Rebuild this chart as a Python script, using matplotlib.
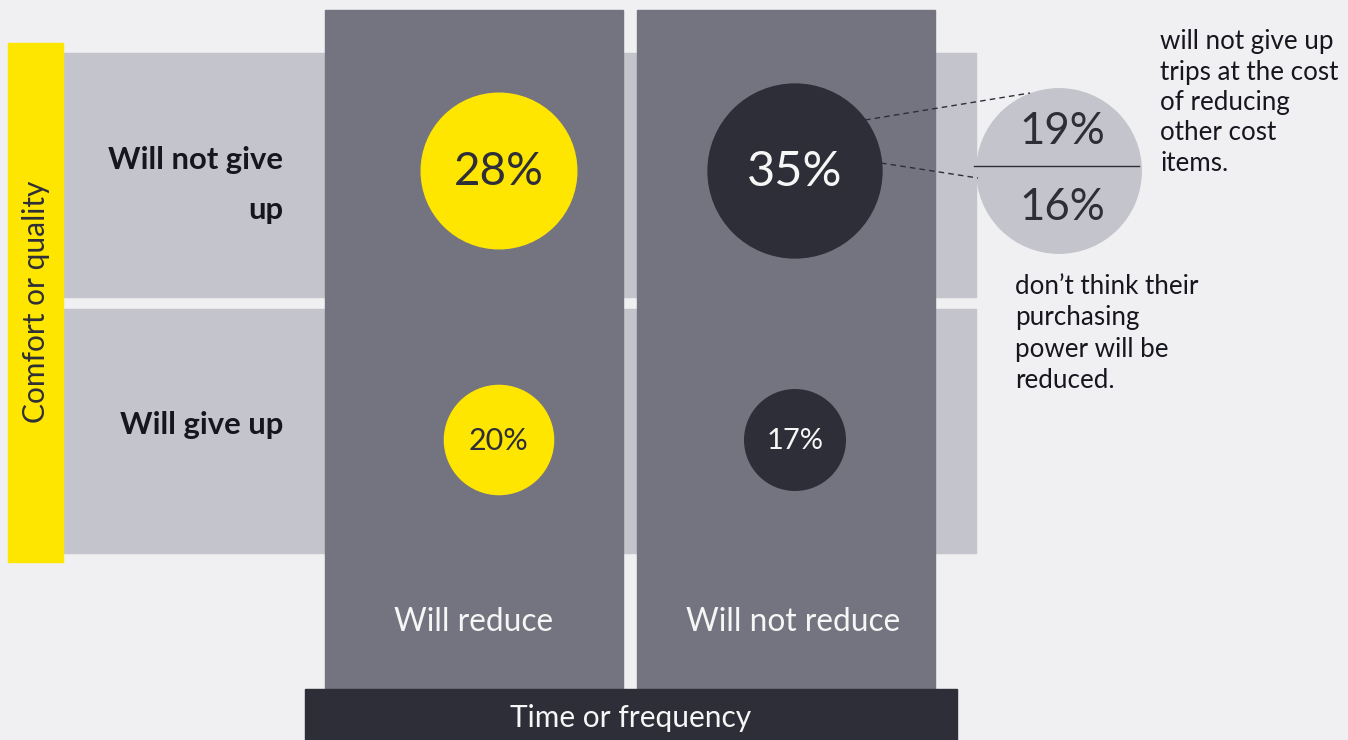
import matplotlib
matplotlib.use("Agg")
import matplotlib.pyplot as plt
from matplotlib.patches import Rectangle, Circle

# ---- data -------------------------------------------------------------
col_labels = ["Will reduce", "Will not reduce"]
row_labels = ["Will not give\nup", "Will give up"]
row_axis_title = "Comfort or quality"
col_axis_title = "Time or frequency"
shares = [[28, 35],   # will not give up
          [20, 17]]   # will give up
split_values = [19, 16]   # breakdown of the 35% group
split_notes = ["will not give up\ntrips at the cost\nof reducing\nother cost\nitems.",
               "don\u2019t think their\npurchasing\npower will be\nreduced."]

# ---- style ------------------------------------------------------------
BG = "#F0F0F2"
BAND = "#C4C4CC"
COLUMN = "#747480"
DARK = "#2E2E38"
INK = "#16161E"
LIGHT = "#F6F6F6"
YELLOW = "#FFE600"
circle_fill = [YELLOW, DARK]
circle_text = [DARK, LIGHT]
FONT = ["Lato", "DejaVu Sans"]

fig = plt.figure(figsize=(13.48, 7.4), dpi=100)
fig.patch.set_facecolor(BG)
ax = fig.add_axes([0, 0, 1, 1])
ax.set_xlim(0, 1348)
ax.set_ylim(740, 0)
ax.axis("off")

# geometry (pixel space)
row_spans = [(53, 297), (309, 553)]
col_spans = [(325, 623), (637, 935)]
col_label_x = [474, 793]
circle_x = [499, 795]
circle_y = [171, 440]
row_scale = [14.7, 12.2]          # radius = scale * sqrt(share)
pct_size = [[33, 35], [22, 21]]


def stacked_text(x, y0, step, text, **kw):
    """Draw a multi-line block one line at a time with a fixed line pitch."""
    for i, line in enumerate(text.split("\n")):
        ax.text(x, y0 + i * step, line, va="center", **kw)


# light horizontal bands
for y0, y1 in row_spans:
    ax.add_patch(Rectangle((63, y0), 976 - 63, y1 - y0, color=BAND, zorder=1))

# yellow vertical axis bar
ax.add_patch(Rectangle((8, 43), 55, 519, color=YELLOW, zorder=2))
ax.text(36, 302, row_axis_title, rotation=90, ha="center", va="center",
        fontsize=21.5, color=DARK, family=FONT, zorder=3)

# dark columns
for x0, x1 in col_spans:
    ax.add_patch(Rectangle((x0, 10), x1 - x0, 680, color=COLUMN, zorder=2))

# bottom axis bar
ax.add_patch(Rectangle((305, 689), 652, 51, color=DARK, zorder=3))
ax.text(631, 718, col_axis_title, ha="center", va="center",
        fontsize=21.5, color=LIGHT, family=FONT, zorder=4)

# column labels
for x, lab in zip(col_label_x, col_labels):
    ax.text(x, 622, lab, ha="center", va="center",
            fontsize=22.8, color=LIGHT, family=FONT, zorder=4)

# row labels
label_kw = dict(ha="right", fontsize=22.3, fontweight="bold", color=INK,
                family=FONT, zorder=3)
stacked_text(283, 160, 50, row_labels[0], **label_kw)
stacked_text(283, 425, 50, row_labels[1], **label_kw)

# share bubbles
for r, row in enumerate(shares):
    for c, v in enumerate(row):
        rad = row_scale[r] * v ** 0.5
        ax.add_patch(Circle((circle_x[c], circle_y[r]), rad,
                            color=circle_fill[c], zorder=5))
        ax.text(circle_x[c], circle_y[r] + 1, f"{v}%", ha="center", va="center",
                fontsize=pct_size[r][c], color=circle_text[c], family=FONT, zorder=6)

# breakdown bubble for the 35% group
bx, by = 1059, 171
brad = 13.9 * sum(split_values) ** 0.5
ax.add_patch(Circle((bx, by), brad, color=BAND, zorder=5))
ax.plot([974, 1139], [166, 166], color=DARK, lw=1.0, zorder=6)
ax.text(1062, 131, f"{split_values[0]}%", ha="center", va="center",
        fontsize=31.5, color=DARK, family=FONT, zorder=6)
ax.text(1062, 208, f"{split_values[1]}%", ha="center", va="center",
        fontsize=31.5, color=DARK, family=FONT, zorder=6)

# connector lines
ax.plot([865, 1030], [120, 93], color=DARK, lw=1.0, ls=(0, (4, 3)), zorder=7)
ax.plot([881, 978], [163, 178], color=DARK, lw=1.0, ls=(0, (4, 3)), zorder=7)

# breakdown notes
note_kw = dict(ha="left", fontsize=18.7, color=INK, family=FONT, zorder=6)
stacked_text(1160, 42, 30.3, split_notes[0], **note_kw)
stacked_text(1015, 287, 31, split_notes[1], **note_kw)

fig.savefig("out.png", dpi=100, facecolor=BG)
